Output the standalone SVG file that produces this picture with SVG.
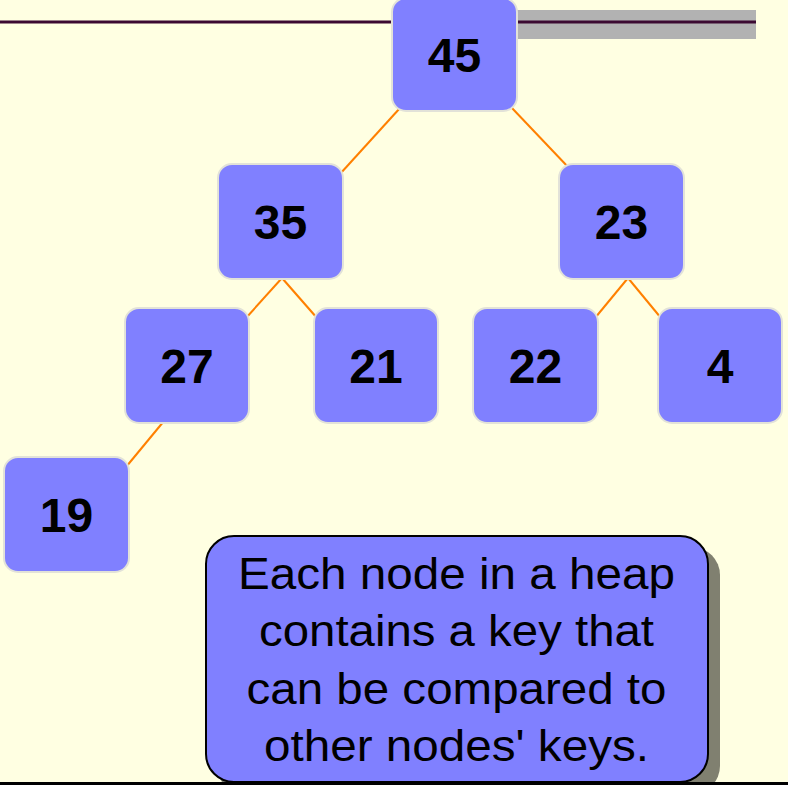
<svg xmlns="http://www.w3.org/2000/svg" width="788" height="785" viewBox="0 0 788 785">
<style>
.bg{fill:#ffffe2}
.node rect{fill:#8080ff;stroke:#e2e2d8;stroke-width:2}
.node text{font-family:"Liberation Sans",Arial,sans-serif;font-weight:bold;font-size:48px;fill:#000;text-anchor:middle}
.edge{stroke:#ff8000;stroke-width:2;fill:none}
.note text{font-family:"Liberation Sans",Arial,sans-serif;font-size:45px;fill:#000;text-anchor:middle}
</style>
<rect class="bg" x="0" y="0" width="788" height="785"/>
<g id="header">
<rect x="510" y="10" width="246" height="29" fill="#b2b2b2"/>
<line x1="0" y1="22" x2="756" y2="22" stroke="#3c0a32" stroke-width="3"/>
</g>
<g id="connectors">
<line class="edge" x1="400" y1="108" x2="340" y2="174"/>
<line class="edge" x1="511" y1="107" x2="569" y2="168"/>
<line class="edge" x1="282" y1="278" x2="246" y2="318"/>
<line class="edge" x1="282" y1="278" x2="317" y2="318"/>
<line class="edge" x1="628" y1="278" x2="595" y2="318"/>
<line class="edge" x1="628" y1="278" x2="661" y2="318"/>
<line class="edge" x1="164" y1="421" x2="126" y2="467"/>
</g>
<g id="n45" class="node"><rect x="392" y="-2" width="125" height="113" rx="14"/><text x="454.5" y="72">45</text></g>
<g id="n35" class="node"><rect x="218" y="164" width="125" height="115" rx="14"/><text x="280.5" y="239">35</text></g>
<g id="n23" class="node"><rect x="559" y="164" width="125" height="115" rx="14"/><text x="621.5" y="239">23</text></g>
<g id="n27" class="node"><rect x="125" y="308" width="124" height="115" rx="14"/><text x="187" y="383">27</text></g>
<g id="n21" class="node"><rect x="314" y="308" width="124" height="115" rx="14"/><text x="376" y="383">21</text></g>
<g id="n22" class="node"><rect x="473" y="308" width="125" height="115" rx="14"/><text x="535.5" y="383">22</text></g>
<g id="n4" class="node"><rect x="658" y="308" width="124" height="115" rx="14"/><text x="720" y="383">4</text></g>
<g id="n19" class="node"><rect x="4" y="457" width="125" height="115" rx="14"/><text x="66.5" y="532">19</text></g>
<g id="note" class="note">
<rect x="217" y="547" width="503" height="247" rx="28" fill="#808070"/>
<rect x="206" y="536" width="502" height="246" rx="28" fill="#8080ff" stroke="#000" stroke-width="2"/>
<text x="456.5" y="589" textLength="437" lengthAdjust="spacingAndGlyphs">Each node in a heap</text>
<text x="456.5" y="646" textLength="395" lengthAdjust="spacingAndGlyphs">contains a key that</text>
<text x="456.5" y="704" textLength="420" lengthAdjust="spacingAndGlyphs">can be compared to</text>
<text x="456.5" y="761" textLength="385" lengthAdjust="spacingAndGlyphs">other nodes' keys.</text>
</g>
<line x1="0" y1="783.5" x2="788" y2="783.5" stroke="#000" stroke-width="3"/>
</svg>
